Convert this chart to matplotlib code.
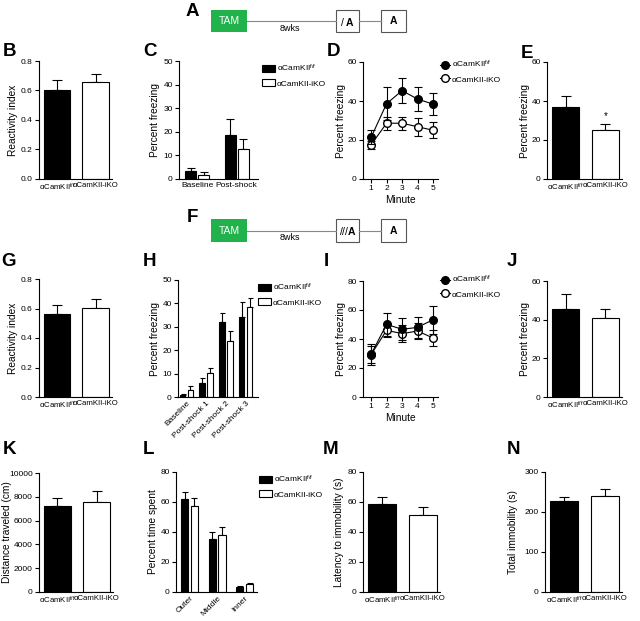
import matplotlib
matplotlib.use('Agg')
import matplotlib.pyplot as plt
import numpy as np
from matplotlib.patches import Rectangle, Patch
from matplotlib.lines import Line2D

plt.rcParams['font.family'] = ['Liberation Sans', 'DejaVu Sans']
plt.rcParams['mathtext.fontset'] = 'custom'
plt.rcParams['mathtext.rm'] = 'Liberation Sans'
plt.rcParams['mathtext.it'] = 'Liberation Sans:italic'
plt.rcParams['mathtext.bf'] = 'Liberation Sans:bold'

W, H = 640, 621

# ---------------- data ----------------
groups = ['αCamKII$^{\\mathrm{f/f}}$', 'αCamKII-iKO']

b_mean = [0.60, 0.66]
b_sem = [0.07, 0.05]

c_cats = ['Baseline', 'Post-shock']
c_ff = [3.2, 18.8]
c_ff_sem = [1.6, 6.6]
c_ko = [1.8, 12.7]
c_ko_sem = [1.0, 4.1]

minutes = [1, 2, 3, 4, 5]
d_ff = [21.3, 38.6, 45.3, 41.0, 38.4]
d_ff_sem = [3.6, 8.4, 6.3, 6.0, 5.6]
d_ko = [17.5, 28.6, 28.6, 26.8, 25.0]
d_ko_sem = [1.9, 3.4, 3.4, 4.7, 4.0]

e_mean = [36.9, 25.2]
e_sem = [5.5, 2.9]

g_mean = [0.56, 0.605]
g_sem = [0.066, 0.06]

h_cats = ['Baseline', 'Post-shock 1', 'Post-shock 2', 'Post-shock 3']
h_ff = [0.9, 6.1, 32.1, 34.0]
h_ff_sem = [0.3, 2.2, 3.8, 6.4]
h_ko = [2.9, 10.4, 23.9, 38.6]
h_ko_sem = [1.7, 1.9, 4.1, 3.5]

i_ff = [29.4, 50.1, 46.7, 48.0, 53.3]
i_ff_sem = [7.4, 8.1, 7.6, 7.4, 9.7]
i_ko = [29.2, 46.0, 43.7, 45.5, 40.7]
i_ko_sem = [5.8, 4.4, 5.8, 5.3, 5.8]

j_mean = [45.7, 41.0]
j_sem = [7.6, 4.5]

k_mean = [7230, 7570]
k_sem = [630, 890]

l_cats = ['Outer', 'Middle', 'Inner']
l_ff = [62.2, 35.3, 3.3]
l_ff_sem = [4.2, 4.5, 0.7]
l_ko = [57.6, 38.2, 5.3]
l_ko_sem = [5.3, 5.1, 0.9]

m_mean = [58.4, 51.3]
m_sem = [4.9, 5.4]

n_mean = [227.5, 240.0]
n_sem = [10.0, 17.5]

# ---------------- helpers ----------------
fig = plt.figure(figsize=(6.4, 6.21), dpi=100)

ax0 = fig.add_axes([0, 0, 1, 1], zorder=-1)
ax0.set_xlim(0, W)
ax0.set_ylim(H, 0)
ax0.axis('off')

TS = 6.0   # tick font size
GS = 5.6   # group label font size
LS = 7.3   # axis label font size
LW = 0.8


def pax(x0, x1, y0, y1, label_x):
    ax = fig.add_axes([x0 / W, 1 - y1 / H, (x1 - x0) / W, (y1 - y0) / H])
    for s in ['top', 'right']:
        ax.spines[s].set_visible(False)
    for s in ['left', 'bottom']:
        ax.spines[s].set_linewidth(LW)
    ax.tick_params(labelsize=TS, length=3, width=LW, pad=1.5)
    ax._label_x = (label_x + 4.5 - x0) / (x1 - x0)
    return ax


def set_ylabel(ax, text):
    ax.set_ylabel(text, fontsize=LS)
    ax.yaxis.set_label_coords(ax._label_x, 0.5)


def two_bar(ax, means, sems, ymax, yticks, ylabel, fmt=None):
    x = np.arange(2)
    ax.bar(x, means, width=0.69, color=['black', 'white'], edgecolor='black', linewidth=LW, zorder=2)
    ax.errorbar(x, means, yerr=[np.zeros(2), sems], fmt='none', ecolor='black',
                elinewidth=LW, capsize=3.6, capthick=LW, zorder=1)
    ax.set_xlim(-0.47, 1.42)
    ax.set_ylim(0, ymax)
    ax.set_yticks(yticks)
    if fmt:
        ax.set_yticklabels([fmt.format(v) for v in yticks])
    ax.set_xticks(x)
    ax.set_xticklabels(groups, fontsize=GS)
    ax.tick_params(axis='x', length=0, pad=2)
    set_ylabel(ax, ylabel)


def grouped(ax, cats, ff, ffs, ko, kos, width, off, xlim, ymax, yticks, ylabel, rot=0, cap=2.0):
    x = np.arange(len(cats))
    ax.bar(x - off, ff, width=width, color='black', edgecolor='black', linewidth=LW, zorder=2)
    ax.bar(x + off, ko, width=width, color='white', edgecolor='black', linewidth=LW, zorder=2)
    ax.errorbar(x - off, ff, yerr=[np.zeros(len(x)), ffs], fmt='none', ecolor='black',
                elinewidth=LW, capsize=cap, capthick=LW, zorder=1)
    ax.errorbar(x + off, ko, yerr=[np.zeros(len(x)), kos], fmt='none', ecolor='black',
                elinewidth=LW, capsize=cap, capthick=LW, zorder=1)
    ax.set_xlim(*xlim)
    ax.set_ylim(0, ymax)
    ax.set_yticks(yticks)
    ax.set_xticks(x)
    if rot:
        ax.set_xticklabels(cats, fontsize=TS, rotation=rot, ha='right', rotation_mode='anchor')
    else:
        ax.set_xticklabels(cats, fontsize=TS)
    ax.tick_params(axis='x', length=0, pad=2)
    set_ylabel(ax, ylabel)


def lines(ax, ff, ffs, ko, kos, ymax, yticks):
    ax.errorbar(minutes, ff, yerr=ffs, fmt='-o', color='black', mfc='black', mec='black',
                ms=5.5, lw=LW, elinewidth=LW, capsize=3, capthick=LW, zorder=3)
    ax.errorbar(minutes, ko, yerr=kos, fmt='-o', color='black', mfc='white', mec='black',
                ms=5.5, lw=LW, elinewidth=LW, capsize=3, capthick=LW, zorder=2)
    ax.set_xlim(0.48, 5.32)
    ax.set_ylim(0, ymax)
    ax.set_yticks(yticks)
    ax.set_xticks(minutes)
    set_ylabel(ax, 'Percent freezing')
    ax.set_xlabel('Minute', fontsize=LS, labelpad=2)


bar_handles = [Patch(facecolor='black', edgecolor='black', linewidth=LW),
               Patch(facecolor='white', edgecolor='black', linewidth=LW)]
line_handles = [Line2D([0], [0], color='black', marker='o', mfc='black', mec='black', ms=5.5, lw=LW),
                Line2D([0], [0], color='black', marker='o', mfc='white', mec='black', ms=5.5, lw=LW)]


def legend(ax, handles, x, y, hl=1.6):
    ax.legend(handles, groups, loc='upper left', bbox_to_anchor=(x / W, 1 - y / H),
              bbox_transform=fig.transFigure, frameon=False, fontsize=TS,
              handlelength=hl, handleheight=0.9, handletextpad=0.2, labelspacing=0.6,
              borderaxespad=0, borderpad=0)


def letter(t, x, y):
    fig.text(x / W, 1 - y / H, t, fontsize=13.5, fontweight='bold', ha='center', va='center')


def schematic(yt, yb, sym):
    yc = (yt + yb) / 2
    ax0.add_patch(Rectangle((211, yt), 36, yb - yt, facecolor='#22b24c', edgecolor='none'))
    ax0.text(229, yc + 0.5, 'TAM', color='white', fontsize=7.5, ha='center', va='center')
    ax0.plot([247, 336], [yc, yc], color='#888888', lw=LW)
    ax0.text(290, yc + 3, '8wks', fontsize=6.5, ha='center', va='top')
    ax0.add_patch(Rectangle((336, yt), 23, yb - yt, facecolor='white', edgecolor='#555555', lw=LW))
    ax0.text(347.5, yc + 0.5, sym + 'A', fontsize=7.5, fontweight='bold', ha='center', va='center')
    ax0.plot([359, 381], [yc, yc], color='#888888', lw=LW)
    ax0.add_patch(Rectangle((381, yt), 25, yb - yt, facecolor='white', edgecolor='#555555', lw=LW))
    ax0.text(393.5, yc + 0.5, 'A', fontsize=7.5, fontweight='bold', ha='center', va='center')


# ---------------- schematics ----------------
schematic(10, 32, '$\\it{/}$ ')
schematic(219, 242, '$\\it{///}$')
letter('A', 192, 11)
letter('F', 192, 218)

# ---------------- row 1 ----------------
axB = pax(39, 112, 61, 179, 14)
two_bar(axB, b_mean, b_sem, 0.8, [0, 0.2, 0.4, 0.6, 0.8], 'Reactivity index', fmt='{:.1f}')

axC = pax(179, 258, 61, 179, 156)
grouped(axC, c_cats, c_ff, c_ff_sem, c_ko, c_ko_sem, 0.28, 0.165, (-0.46, 1.54), 50,
        [0, 10, 20, 30, 40, 50], 'Percent freezing', cap=3.0)
legend(axC, bar_handles, 262, 63)

axD = pax(363, 438, 62, 179, 341)
lines(axD, d_ff, d_ff_sem, d_ko, d_ko_sem, 60, [0, 20, 40, 60])
legend(axD, line_handles, 440, 59, hl=1.2)

axE = pax(547, 622, 62, 179, 525)
two_bar(axE, e_mean, e_sem, 60, [0, 20, 40, 60], 'Percent freezing')
axE.text(1, e_mean[1] + e_sem[1] + 1.5, '*', ha='center', va='bottom', fontsize=7)

letter('B', 9, 52)
letter('C', 150, 52)
letter('D', 333, 52)
letter('E', 527, 53)

# ---------------- row 2 ----------------
axG = pax(39, 112, 279, 397, 14)
two_bar(axG, g_mean, g_sem, 0.8, [0, 0.2, 0.4, 0.6, 0.8], 'Reactivity index', fmt='{:.1f}')

axH = pax(178, 258, 280, 397, 155)
grouped(axH, h_cats, h_ff, h_ff_sem, h_ko, h_ko_sem, 0.28, 0.2, (-0.43, 3.63), 50,
        [0, 10, 20, 30, 40, 50], 'Percent freezing', rot=45, cap=1.8)
legend(axH, bar_handles, 258, 282)

axI = pax(363, 438, 281, 397, 341)
lines(axI, i_ff, i_ff_sem, i_ko, i_ko_sem, 80, [0, 20, 40, 60, 80])
legend(axI, line_handles, 440, 274, hl=1.2)

axJ = pax(547, 622, 281, 397, 525)
two_bar(axJ, j_mean, j_sem, 60, [0, 20, 40, 60], 'Percent freezing')

letter('G', 9, 262)
letter('H', 149, 262)
letter('I', 326, 262)
letter('J', 512, 262)

# ---------------- row 3 ----------------
axK = pax(39, 113, 473, 592, 8)
two_bar(axK, k_mean, k_sem, 10000, [0, 2000, 4000, 6000, 8000, 10000], 'Distance traveled (cm)')

axL = pax(176, 257, 472, 592, 153)
grouped(axL, l_cats, l_ff, l_ff_sem, l_ko, l_ko_sem, 0.26, 0.18, (-0.49, 2.45), 80,
        [0, 20, 40, 60, 80], 'Percent time spent', rot=45, cap=2.0)
legend(axL, bar_handles, 259, 474)

axM = pax(363, 440, 472, 592, 340)
two_bar(axM, m_mean, m_sem, 80, [0, 20, 40, 60, 80], 'Latency to immobility (s)')

axN = pax(545, 622, 472, 592, 514)
two_bar(axN, n_mean, n_sem, 300, [0, 100, 200, 300], 'Total immobility (s)')

letter('K', 9, 450)
letter('L', 148, 450)
letter('M', 331, 450)
letter('N', 513, 450)

fig.savefig('out.png', dpi=100)
